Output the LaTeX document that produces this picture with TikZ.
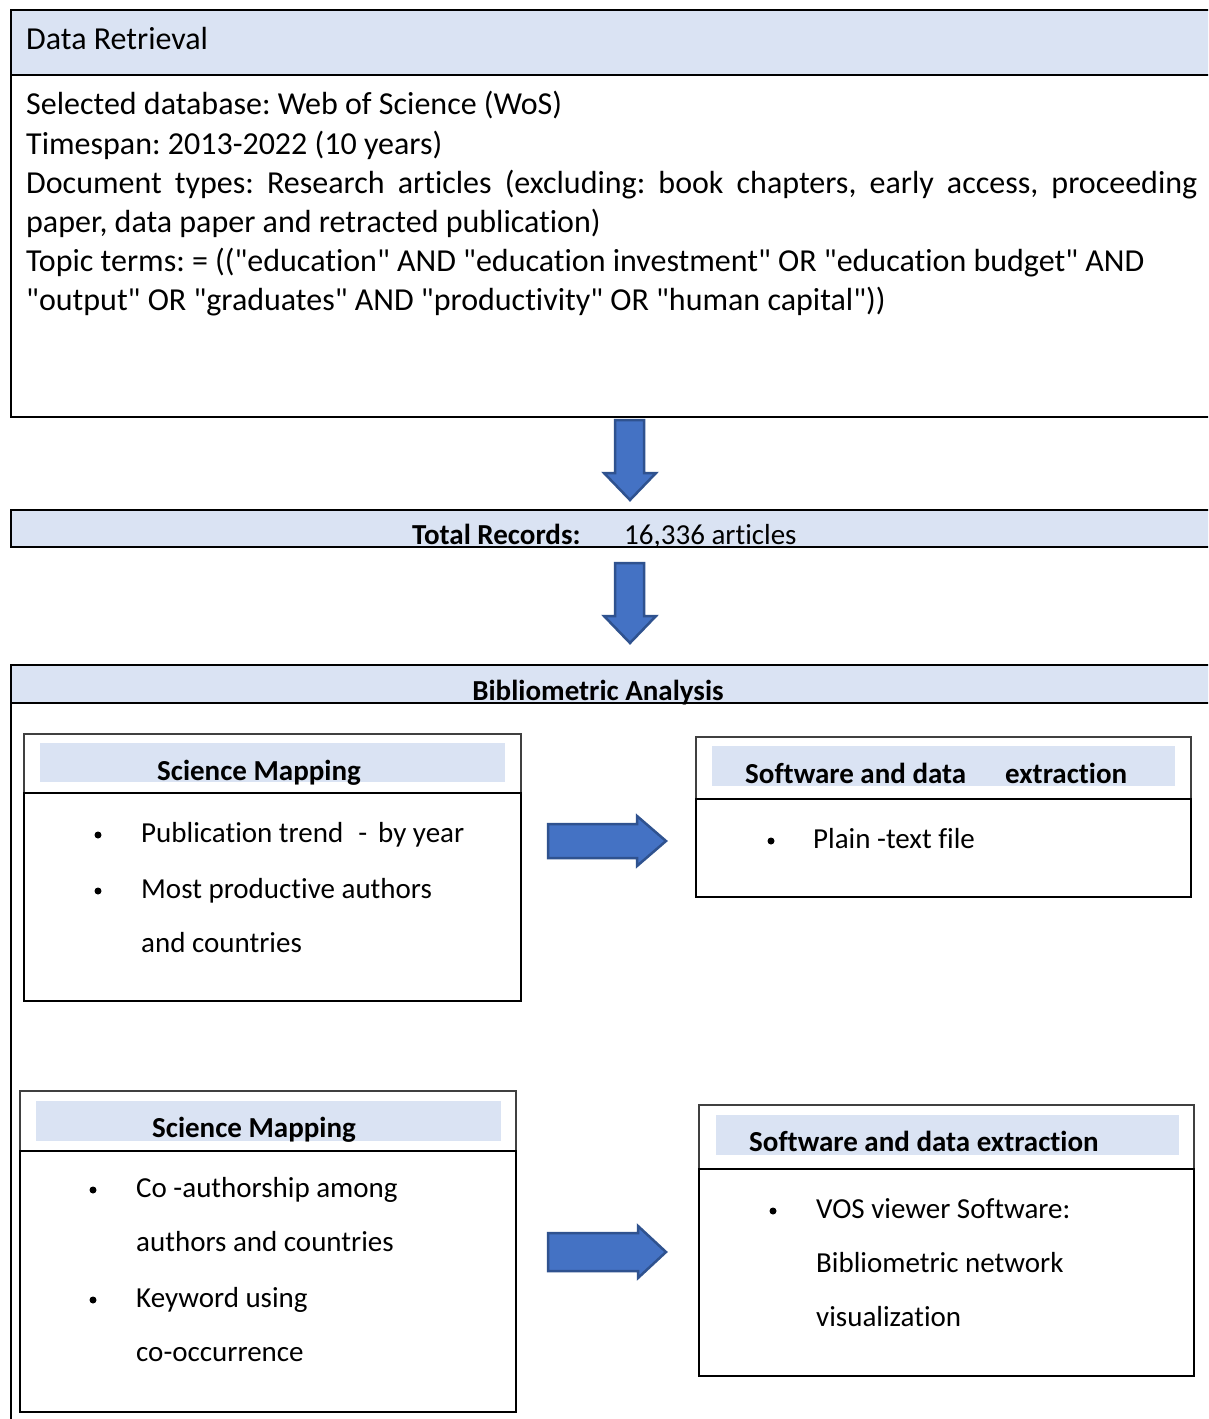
\documentclass[tikz,border=0pt]{standalone}
\usepackage{fontspec}
\setmainfont{Carlito}[Ligatures={NoCommon,TeXOff}]
\definecolor{hdr}{HTML}{DAE3F3}
\definecolor{arrfill}{HTML}{4472C4}
\definecolor{arrline}{HTML}{2F528F}
\begin{document}
\frenchspacing
\begin{tikzpicture}[x=1pt,y=-1pt,
  bigtext/.style={font=\fontsize{32}{39}\selectfont, inner sep=0pt, anchor=base west},
  boxtext/.style={font=\fontsize{29}{35}\selectfont, inner sep=0pt, anchor=base west},
  boldhead/.style={font=\fontsize{29}{35}\selectfont\bfseries, inner sep=0pt, anchor=base},
  boldwest/.style={font=\fontsize{29}{35}\selectfont\bfseries, inner sep=0pt, anchor=base west},
  frame/.style={draw=black, line width=2pt},
  thinframe/.style={draw=black!75, line width=1.2pt},
  band/.style={fill=hdr},
  blockarrow/.style={fill=arrfill, draw=arrline, line width=2.5pt, line join=miter},
  bulletdot/.style={circle, fill=black, inner sep=0pt, minimum size=7pt}]
\clip (0,0) rectangle (1208,1419);
\fill[white] (0,0) rectangle (1208,1419);

% ---- Data Retrieval box
\fill[band] (11,10) rectangle (1215,75);
\draw[frame] (11,10) rectangle (1215,417);
\draw[frame] (11,75) -- (1215,75);
\node[bigtext] (dr) at (26,49) {Data Retrieval};
\node[bigtext] (l1) at (26,114) {Selected database: Web of Science (WoS)};
\node[bigtext] (l2) at (26,154) {Timespan: 2013-2022 (10 years)};
\node[bigtext] (l3) at (26,193) {\makebox[1171pt][s]{Document types: Research articles (excluding: book chapters, early access, proceeding}};
\node[bigtext] (l4) at (26,232) {paper, data paper and retracted publication)};
\node[bigtext] (l5) at (26,271) {Topic terms: = (("education" AND "education investment" OR "education budget" AND};
\node[bigtext] (l6) at (26,310) {"output" OR "graduates" AND "productivity" OR "human capital"))};

% ---- arrow 1
\draw[blockarrow] (615,420) -- (644,420) -- (644,473) -- (656,473) -- (630,500) -- (604,473) -- (615,473) -- cycle;

% ---- Total records bar
\fill[band] (11,510) rectangle (1215,547);
\draw[frame] (11,510) rectangle (1215,547);
\node[boldwest] (tr) at (412,544) {Total Records:};
\node[boxtext] (tn) at (624,544) {16,336 articles};

% ---- arrow 2
\draw[blockarrow] (615,563) -- (644,563) -- (644,616) -- (656,616) -- (630,643) -- (604,616) -- (615,616) -- cycle;

% ---- Bibliometric Analysis box
\fill[band] (11,665) rectangle (1215,703);
\draw[frame] (11,665) rectangle (1215,1430);
\draw[frame] (11,703) -- (1215,703);
\node[boldhead] (ba) at (598,700) {Bibliometric Analysis};

% ---- Science Mapping 1
\fill[band] (40,743) rectangle (505,782);
\draw[thinframe] (24,734) rectangle (521,793);
\draw[frame] (24,793) rectangle (521,1001);
\node[boldhead] (sm1) at (259,780) {Science Mapping};
\node[bulletdot] (b11) at (98,835) {};
\node[boxtext] (t11) at (141,842) {Publication trend\hspace{15pt}-\hspace{11pt}by year};
\node[bulletdot] (b12) at (98,891) {};
\node[boxtext] (t12) at (141,898) {Most productive authors};
\node[boxtext] (t13) at (141,952) {and countries};

% ---- right arrow 1
\draw[blockarrow] (548,824) -- (637,824) -- (637,816) -- (666,841) -- (637,866) -- (637,858) -- (548,858) -- cycle;

% ---- Software 1
\fill[band] (712,746) rectangle (1175,786);
\draw[thinframe] (696,737) rectangle (1191,799);
\draw[frame] (696,799) rectangle (1191,897);
\node[boldwest] (sw1) at (745,783) {Software and data\hspace{39pt}extraction};
\node[bulletdot] (b21) at (771,841) {};
\node[boxtext] (t21) at (813,848) {Plain -text file};

% ---- Science Mapping 2
\fill[band] (36,1101) rectangle (501,1141);
\draw[thinframe] (20,1091) rectangle (516,1151);
\draw[frame] (20,1151) rectangle (516,1412);
\node[boldhead] (sm2) at (254,1137) {Science Mapping};
\node[bulletdot] (b31) at (93,1190) {};
\node[boxtext] (t31) at (136,1197) {Co -authorship among};
\node[boxtext] (t32) at (136,1251) {authors and countries};
\node[bulletdot] (b32) at (93,1300) {};
\node[boxtext] (t33) at (136,1307) {Keyword using};
\node[boxtext] (t34) at (136,1361) {co-occurrence};

% ---- right arrow 2
\draw[blockarrow] (548,1233) -- (638,1233) -- (638,1226) -- (666,1252) -- (638,1278) -- (638,1271) -- (548,1271) -- cycle;

% ---- Software 2
\fill[band] (716,1115) rectangle (1179,1155);
\draw[thinframe] (699,1105) rectangle (1194,1169);
\draw[frame] (699,1169) rectangle (1194,1376);
\node[boldwest] (sw2) at (749,1151) {Software and data extraction};
\node[bulletdot] (b41) at (773,1211) {};
\node[boxtext] (t41) at (816,1218) {VOS viewer Software:};
\node[boxtext] (t42) at (816,1272) {Bibliometric network};
\node[boxtext] (t43) at (816,1326) {visualization};
\end{tikzpicture}
\end{document}
